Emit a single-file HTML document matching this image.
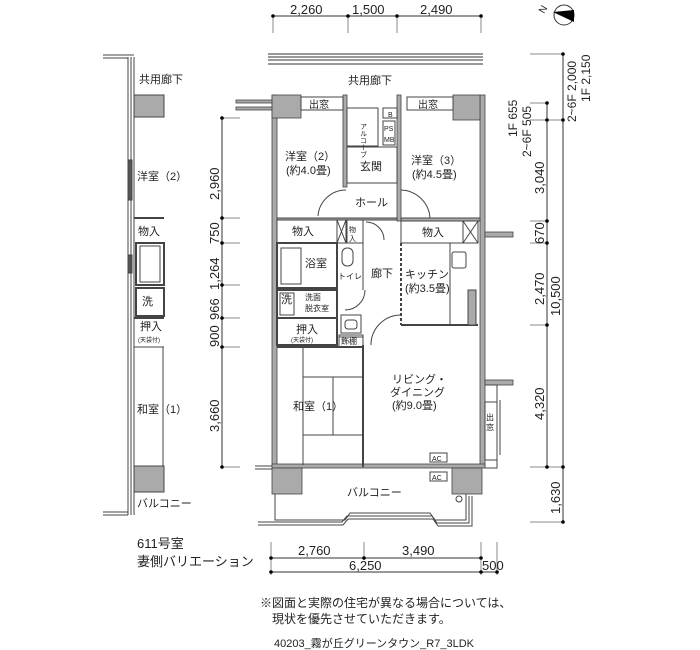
<!DOCTYPE html>
<html><head><meta charset="utf-8"><style>
html,body{margin:0;padding:0;background:#fff;}
svg{display:block;}
text{font-family:"Liberation Sans","Noto Sans CJK JP",sans-serif;fill:#222;}
</style></head><body>
<svg width="700" height="650" viewBox="0 0 700 650" xmlns="http://www.w3.org/2000/svg">
<g stroke="#333" stroke-width="1" fill="none">
<line x1="273" y1="16" x2="481" y2="16"/>
<line x1="273" y1="16" x2="273" y2="33" stroke="#888"/><line x1="348" y1="16" x2="348" y2="33" stroke="#888"/>
<line x1="397" y1="16" x2="397" y2="33" stroke="#888"/><line x1="481" y1="16" x2="481" y2="33" stroke="#888"/>
<line x1="268" y1="54" x2="483" y2="54"/><line x1="268" y1="57" x2="483" y2="57"/><line x1="268" y1="60" x2="483" y2="60"/><line x1="268" y1="64" x2="483" y2="64"/>
<line x1="222" y1="118" x2="222" y2="467"/>
<g stroke="#888"><line x1="222" y1="118" x2="240" y2="118"/><line x1="222" y1="218" x2="240" y2="218"/><line x1="222" y1="243" x2="240" y2="243"/><line x1="222" y1="285" x2="240" y2="285"/><line x1="222" y1="318" x2="240" y2="318"/><line x1="222" y1="347" x2="240" y2="347"/><line x1="222" y1="467" x2="240" y2="467"/></g>
<line x1="547" y1="103" x2="547" y2="467"/><line x1="563" y1="54" x2="563" y2="522"/>
<g stroke="#888"><line x1="530" y1="54" x2="563" y2="54"/><line x1="530" y1="103" x2="548" y2="103"/><line x1="530" y1="120" x2="563" y2="120"/><line x1="530" y1="221" x2="548" y2="221"/><line x1="530" y1="243" x2="548" y2="243"/><line x1="530" y1="325" x2="548" y2="325"/><line x1="530" y1="467" x2="563" y2="467"/><line x1="530" y1="522" x2="563" y2="522"/></g>
<line x1="271" y1="558" x2="481" y2="558"/><line x1="271" y1="572" x2="497" y2="572"/>
<g stroke="#888"><line x1="271" y1="542" x2="271" y2="575"/><line x1="364" y1="542" x2="364" y2="560"/><line x1="481" y1="542" x2="481" y2="575"/><line x1="497" y1="542" x2="497" y2="575"/></g>
</g>
<g fill="#000">
<circle cx="273" cy="16" r="1.8"/><circle cx="348" cy="16" r="1.8"/><circle cx="397" cy="16" r="1.8"/><circle cx="481" cy="16" r="1.8"/>
<circle cx="222" cy="118" r="1.8"/><circle cx="222" cy="218" r="1.8"/><circle cx="222" cy="243" r="1.8"/><circle cx="222" cy="285" r="1.8"/><circle cx="222" cy="318" r="1.8"/><circle cx="222" cy="347" r="1.8"/><circle cx="222" cy="467" r="1.8"/>
<circle cx="563" cy="54" r="1.8"/><circle cx="547" cy="103" r="1.8"/><circle cx="547" cy="120" r="1.8"/><circle cx="563" cy="120" r="1.8"/><circle cx="547" cy="221" r="1.8"/><circle cx="547" cy="243" r="1.8"/><circle cx="547" cy="325" r="1.8"/><circle cx="547" cy="467" r="1.8"/><circle cx="563" cy="467" r="1.8"/><circle cx="563" cy="522" r="1.8"/>
<circle cx="271" cy="558" r="1.8"/><circle cx="364" cy="558" r="1.8"/><circle cx="481" cy="558" r="1.8"/><circle cx="271" cy="572" r="1.8"/><circle cx="481" cy="572" r="1.8"/><circle cx="497" cy="572" r="1.8"/>
</g>
<circle cx="564" cy="15" r="10" fill="#fff" stroke="#333"/>
<polygon points="553,12 574,10 574,22" fill="#000"/>
<text x="540" y="13" font-size="10" transform="rotate(-60 543 10)">N</text>

<g fill="#aaa" stroke="#444" stroke-width="0.8">
<rect x="272" y="95" width="5" height="372"/>
<rect x="480" y="95" width="5" height="372"/>
<rect x="272" y="95" width="29" height="23"/>
<rect x="453" y="95" width="27" height="25"/>
<rect x="343" y="95" width="4" height="92"/>
<rect x="397" y="95" width="4" height="126"/>
<rect x="272" y="464" width="213" height="4"/>
<rect x="272" y="468" width="30" height="26"/>
<rect x="452" y="468" width="30" height="26"/>
<rect x="485" y="232" width="28" height="5"/>
<rect x="485" y="380" width="28" height="5"/>
<rect x="236" y="100" width="36" height="3"/>
<rect x="236" y="107" width="36" height="3"/>
</g>
<g fill="none" stroke="#444" stroke-width="1">
<rect x="301" y="97" width="42" height="13"/><rect x="407" y="97" width="46" height="13"/>
<rect x="347" y="108" width="31" height="38"/>
<rect x="383" y="108" width="14" height="10"/><rect x="383" y="121" width="12" height="24"/>
<rect x="347" y="147" width="50" height="36"/>
<path d="M318 216 A28 28 0 0 1 346 190"/><path d="M401 190 A30 30 0 0 1 430 218"/>
<rect x="277" y="218" width="120" height="2" fill="#aaa"/>
<rect x="401" y="218" width="79" height="3" fill="#aaa"/>
<rect x="277" y="220" width="60" height="23"/>
<rect x="337" y="220" width="9" height="23"/><line x1="337" y1="220" x2="346" y2="243"/><line x1="346" y1="220" x2="337" y2="243"/>
<rect x="347" y="220" width="16" height="23"/>
<path d="M366 222 A18 18 0 0 1 384 240"/>
<rect x="401" y="221" width="62" height="22"/>
<rect x="463" y="221" width="15" height="22"/><line x1="463" y1="221" x2="478" y2="243"/><line x1="478" y1="221" x2="463" y2="243"/>
<rect x="277" y="243" width="60" height="45" stroke-width="2"/>
<rect x="281" y="248" width="20" height="36"/>
<line x1="337" y1="243" x2="337" y2="345" stroke-width="2"/>
<rect x="342" y="248" width="11" height="18" rx="5"/>
<path d="M363 243 L363 290 M365 290 A20 20 0 0 1 345 310"/>
<rect x="277" y="290" width="60" height="28" stroke-width="2"/><rect x="280" y="293" width="14" height="22"/>
<rect x="277" y="318" width="60" height="27" stroke-width="2"/>
<rect x="341" y="315" width="20" height="18"/><rect x="345" y="320" width="12" height="9" rx="3"/>
<rect x="339" y="335" width="24" height="12"/>
<path d="M371 345 A30 30 0 0 1 401 315"/>
<line x1="363" y1="345" x2="363" y2="467" stroke-width="2"/>
<line x1="401" y1="243" x2="401" y2="325" stroke-width="2" stroke-dasharray="3,2"/>
<line x1="401" y1="325" x2="478" y2="325" stroke-width="2"/>
<line x1="450" y1="243" x2="450" y2="325"/>
<rect x="452" y="252" width="14" height="16" rx="2"/>
<rect x="468" y="290" width="8" height="35" fill="#aaa"/>
<line x1="277" y1="347" x2="363" y2="347" stroke-width="2"/>
<rect x="303" y="377" width="60" height="58"/><line x1="333" y1="377" x2="333" y2="435"/>
<line x1="303" y1="347" x2="303" y2="465"/>
<rect x="339" y="337" width="24" height="10"/>
<path d="M485 385 L497 385 L497 468 L485 468"/><rect x="485" y="402" width="12" height="58" fill="#fff"/>
<line x1="500" y1="400" x2="500" y2="455"/>
<rect x="430" y="453" width="17" height="9"/><rect x="430" y="472" width="17" height="9"/>
<path d="M275 494 L275 520 L345 520 L350 513 L430 513 L435 520 L466 520 L466 494"/>
<path d="M258 522 L342 522 L347 516 L432 516 L437 523 L469 523 L469 496"/>
<path d="M258 525 L343 525 L348 519 L433 519 L438 526 L472 526 L472 496"/>
<circle cx="459" cy="499" r="3"/>
<line x1="255" y1="466" x2="272" y2="466"/><line x1="255" y1="469" x2="272" y2="469"/>
</g>
<g fill="none" stroke="#444">
<line x1="128" y1="57" x2="128" y2="515"/><line x1="131" y1="57" x2="131" y2="515"/><line x1="134" y1="57" x2="134" y2="515"/>
<line x1="103" y1="55" x2="134" y2="55"/><line x1="103" y1="58" x2="128" y2="58"/>
<line x1="103" y1="512" x2="128" y2="512"/><line x1="103" y1="515" x2="128" y2="515"/>
<rect x="134" y="95" width="30" height="22" fill="#aaa"/>
<rect x="134" y="466" width="30" height="26" fill="#aaa"/>
<rect x="128" y="160" width="4" height="40" fill="#555"/>
<rect x="128" y="255" width="4" height="18" fill="#555"/>
<line x1="134" y1="218" x2="164" y2="218" stroke-width="2"/>
<rect x="136" y="243" width="28" height="42" stroke-width="2"/><rect x="140" y="246" width="20" height="36"/>
<rect x="136" y="288" width="28" height="28" stroke-width="2"/>
<line x1="134" y1="318" x2="164" y2="318" stroke-width="2"/>
<line x1="134" y1="347" x2="164" y2="347"/><line x1="163" y1="347" x2="163" y2="466"/>
</g>
<g font-size="11">
<text x="290" y="14" font-size="13">2,260</text><text x="352" y="14" font-size="13">1,500</text><text x="420" y="14" font-size="13">2,490</text>
<text x="348" y="84">共用廊下</text>
<text x="309" y="108" font-size="10">出窓</text><text x="418" y="108" font-size="10">出窓</text>
<text x="363" y="123" font-size="7" writing-mode="tb">アルコーブ</text>
<text x="388" y="117" font-size="7">B</text><text x="384" y="131" font-size="7">PS</text><text x="384" y="142" font-size="7">MB</text>
<text x="285" y="160">洋室（2）</text><text x="286" y="174">(約4.0畳)</text>
<text x="360" y="170">玄関</text>
<text x="411" y="164">洋室（3）</text><text x="412" y="178">(約4.5畳)</text>
<text x="355" y="206">ホール</text>
<text x="292" y="235">物入</text><text x="349" y="232" font-size="7">物</text><text x="349" y="241" font-size="7">入</text>
<text x="422" y="236">物入</text>
<text x="305" y="267">浴室</text><text x="338" y="279" font-size="8">トイレ</text>
<text x="371" y="277">廊下</text>
<text x="405" y="278">キッチン</text><text x="405" y="292">(約3.5畳)</text>
<text x="281" y="303">洗</text><text x="305" y="300" font-size="8">洗面</text><text x="305" y="311" font-size="8">脱衣室</text>
<text x="296" y="333">押入</text><text x="291" y="342" font-size="6">(天袋付)</text>
<text x="341" y="344" font-size="8">飾棚</text>
<text x="293" y="410">和室（1）</text>
<text x="392" y="383">リビング・</text><text x="390" y="396">ダイニング</text><text x="392" y="409">(約9.0畳)</text>
<text x="486" y="420" font-size="8">出</text><text x="486" y="430" font-size="8">窓</text>
<text x="432" y="461" font-size="7">AC</text><text x="432" y="480" font-size="7">AC</text>
<text x="347" y="496">バルコニー</text>
<text x="139" y="83">共用廊下</text><text x="137" y="180">洋室（2）</text><text x="138" y="235">物入</text>
<text x="142" y="305">洗</text><text x="140" y="330">押入</text><text x="138" y="342" font-size="6">(天袋付)</text>
<text x="137" y="413">和室（1）</text><text x="137" y="507">バルコニー</text>
<text x="137" y="548" font-size="13">611号室</text><text x="137" y="566" font-size="13">妻側バリエーション</text>
<text x="298" y="555" font-size="13">2,760</text><text x="402" y="555" font-size="13">3,490</text>
<text x="349" y="570" font-size="13">6,250</text><text x="482" y="570" font-size="13">500</text>
<text x="260" y="607" font-size="12">※図面と実際の住宅が異なる場合については、</text>
<text x="272" y="623" font-size="12">現状を優先させていただきます。</text>
<text x="274" y="647" font-size="11">40203_霧が丘グリーンタウン_R7_3LDK</text>
</g>
<g font-size="13">
<text transform="translate(219 200) rotate(-90)">2,960</text>
<text transform="translate(219 244) rotate(-90)">750</text>
<text transform="translate(219 290) rotate(-90)">1,264</text>
<text transform="translate(219 320) rotate(-90)">966</text>
<text transform="translate(219 347) rotate(-90)">900</text>
<text transform="translate(219 432) rotate(-90)">3,660</text>
<text transform="translate(544 194) rotate(-90)">3,040</text>
<text transform="translate(544 244) rotate(-90)">670</text>
<text transform="translate(544 305) rotate(-90)">2,470</text>
<text transform="translate(560 316) rotate(-90)">10,500</text>
<text transform="translate(544 420) rotate(-90)">4,320</text>
<text transform="translate(560 514) rotate(-90)">1,630</text>
<text font-size="12" transform="translate(517 137) rotate(-90)">1F 655</text>
<text font-size="12" transform="translate(531 157) rotate(-90)">2~6F 505</text>
<text font-size="12" transform="translate(576 122) rotate(-90)">2~6F 2,000</text>
<text font-size="12" transform="translate(590 102) rotate(-90)">1F 2,150</text>
</g>
</svg>
</body></html>
